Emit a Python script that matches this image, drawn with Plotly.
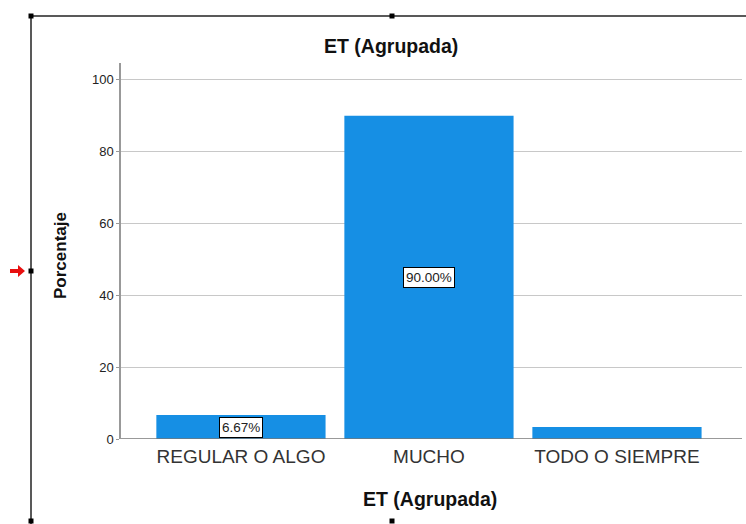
import plotly.graph_objects as go

categories = ["REGULAR O ALGO", "MUCHO", "TODO O SIEMPRE"]
percentages = [6.67, 90.00, 3.33]
bar_labels = ["6.67%", "90.00%", ""]
y_ticks = [0, 20, 40, 60, 80, 100]

W, H = 746, 524
L, R, T, B = 121, 4, 63, 85
pw, ph = W - L - R, H - T - B
FONT = "Liberation Sans, Arial"

def px(x):
    return (x - L) / pw

def py(y):
    return (H - B - y) / ph

fig = go.Figure()
fig.add_trace(go.Bar(
    x=[0, 1, 2], y=percentages, width=0.9,
    marker=dict(color="#168FE4", line=dict(width=0)),
    hoverinfo="skip",
))

for i, (v, lab) in enumerate(zip(percentages, bar_labels)):
    if lab:
        fig.add_annotation(x=i, y=v / 2, text=lab, showarrow=False,
                           xanchor="center", yanchor="middle",
                           font=dict(family=FONT, size=13.5, color="#222"),
                           bgcolor="white", bordercolor="black", borderwidth=1, borderpad=2)

shapes = []
shapes.append(dict(type="line", xref="paper", yref="paper", x0=px(31), x1=px(746), y0=py(16), y1=py(16),
                   line=dict(color="#222", width=1.5)))
shapes.append(dict(type="line", xref="paper", yref="paper", x0=px(31), x1=px(31), y0=py(16), y1=py(524),
                   line=dict(color="#222", width=1.5)))
for (hx, hy) in [(31, 16), (392, 16), (31, 271), (31, 521), (392, 521)]:
    shapes.append(dict(type="rect", xref="paper", yref="paper", x0=px(hx - 2.5), x1=px(hx + 2.5),
                       y0=py(hy - 2.5), y1=py(hy + 2.5), fillcolor="black", line=dict(width=0)))
path = "M {} {} L {} {} L {} {} L {} {} L {} {} L {} {} L {} {} Z".format(
    px(10), py(269), px(18), py(269), px(18), py(265), px(25), py(271),
    px(18), py(277), px(18), py(273), px(10), py(273))
shapes.append(dict(type="path", xref="paper", yref="paper", path=path, fillcolor="#e81010", line=dict(width=0)))
shapes.append(dict(type="line", xref="paper", yref="y", x0=0, x1=1, y0=0, y1=0,
                   line=dict(color="#777", width=1.5)))

fig.update_layout(
    width=W, height=H,
    margin=dict(l=L, r=R, t=T, b=B),
    paper_bgcolor="white", plot_bgcolor="white",
    showlegend=False,
    shapes=shapes,
    xaxis=dict(range=[-0.638, 2.665], tickmode="array", tickvals=[0, 1, 2], ticktext=categories,
               showgrid=False, zeroline=False, showline=False, ticks="", automargin=False,
               ticklabelstandoff=4,
               tickfont=dict(family=FONT, size=19, color="#333")),
    yaxis=dict(range=[0, 104.7], tickmode="array", tickvals=y_ticks, automargin=False,
               showgrid=True, gridcolor="#c8c8c8", gridwidth=1, zeroline=False,
               showline=True, linecolor="#999", linewidth=1.5, ticks="outside", ticklen=3, tickcolor="#999",
               tickfont=dict(family=FONT, size=13, color="#222")),
)

fig.add_annotation(xref="paper", yref="paper", x=px(391), y=py(46.5), text="<b>ET (Agrupada)</b>",
                   xanchor="center", yanchor="middle",
                   showarrow=False, font=dict(family=FONT, size=19.5, color="#111"))
fig.add_annotation(xref="paper", yref="paper", x=px(430), y=py(499), text="<b>ET (Agrupada)</b>",
                   xanchor="center", yanchor="middle",
                   showarrow=False, font=dict(family=FONT, size=19.5, color="#111"))
fig.add_annotation(xref="paper", yref="paper", x=px(60), y=py(255), text="<b>Porcentaje</b>",
                   xanchor="center", yanchor="middle",
                   textangle=-90, showarrow=False, font=dict(family=FONT, size=17, color="#111"))

fig.write_html("out.html", config={"displayModeBar": False},
               post_script="document.body.style.margin='0';")
